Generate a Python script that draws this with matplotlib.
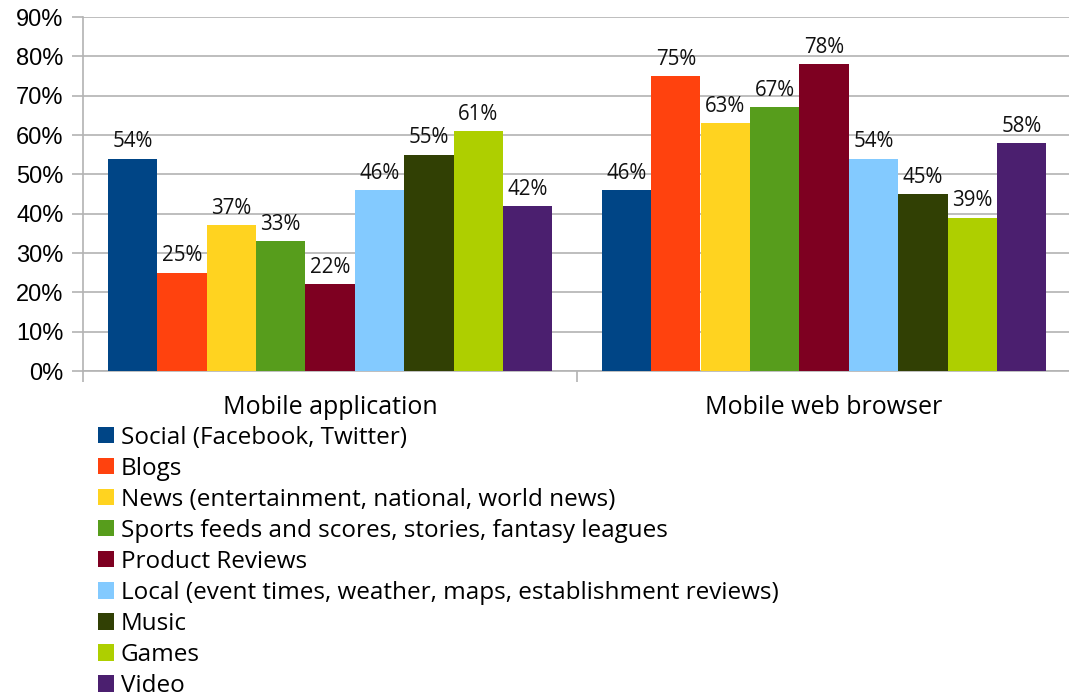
import numpy as np
import matplotlib
matplotlib.use("Agg")
import matplotlib.pyplot as plt
from matplotlib.patches import Patch

groups = ["Mobile application", "Mobile web browser"]
series = [
    "Social (Facebook, Twitter)",
    "Blogs",
    "News (entertainment, national, world news)",
    "Sports feeds and scores, stories, fantasy leagues",
    "Product Reviews",
    "Local (event times, weather, maps, establishment reviews)",
    "Music",
    "Games",
    "Video",
]
app_values = [54, 25, 37, 33, 22, 46, 55, 61, 42]
web_values = [46, 75, 63, 67, 78, 54, 45, 39, 58]
colors = ["#004586", "#ff420e", "#ffd320", "#579d1c", "#7e0021",
          "#83caff", "#314004", "#aecf00", "#4b1f6f"]

label_font = "Open Sans"
tick_font = "Liberation Sans"
grid_col = "#b3b3b3"

fig = plt.figure(figsize=(10.69, 6.99), dpi=100)
W, H = 1069, 699
ax = fig.add_axes([83 / W, 1 - 371 / H, (1071 - 83) / W, (371 - 17) / H])

x = np.arange(len(groups))
n = len(series)
bw = 0.9 / n
for i in range(n):
    vals = [app_values[i], web_values[i]]
    pos = x + (i - (n - 1) / 2) * bw
    bars = ax.bar(pos, vals, width=bw, color=colors[i], zorder=3, linewidth=0)
    for b, v in zip(bars, vals):
        ax.annotate(f"{v}%", (b.get_x() + b.get_width() / 2, v),
                    xytext=(0, 4.5), textcoords="offset points",
                    ha="center", va="bottom", fontsize=14.8,
                    family=label_font, color="#111111")

ax.set_xlim(-0.5, 1.5)
ax.set_ylim(0, 90)
ax.set_yticks(range(0, 91, 10))
ax.set_yticklabels([f"{v}%" for v in range(0, 91, 10)],
                   fontsize=17, family=tick_font)
ax.yaxis.grid(True, color=grid_col, linewidth=1.2, zorder=0)
ax.tick_params(axis="y", length=8, width=1.2, color=grid_col, pad=6)

ax.set_xticks(x)
ax.set_xticklabels(groups, fontsize=18, family=label_font)
ax.set_xticks([-0.5, 0.5, 1.5], minor=True)
ax.tick_params(axis="x", which="major", length=0, pad=17)
ax.tick_params(axis="x", which="minor", length=8, width=1.2, color=grid_col)

for s in ["top", "right"]:
    ax.spines[s].set_visible(False)
for s in ["left", "bottom"]:
    ax.spines[s].set_color(grid_col)
    ax.spines[s].set_linewidth(1.2)

handles = [Patch(facecolor=c, edgecolor="none") for c in colors]
fig.legend(handles, series, loc="upper left",
           bbox_to_anchor=(88 / W, 1 - 416 / H), frameon=False,
           prop={"family": label_font, "size": 17.5},
           handlelength=0.65, handleheight=0.65, handletextpad=0.3,
           labelspacing=0.29, borderaxespad=0)

fig.savefig("out.png", dpi=100)
